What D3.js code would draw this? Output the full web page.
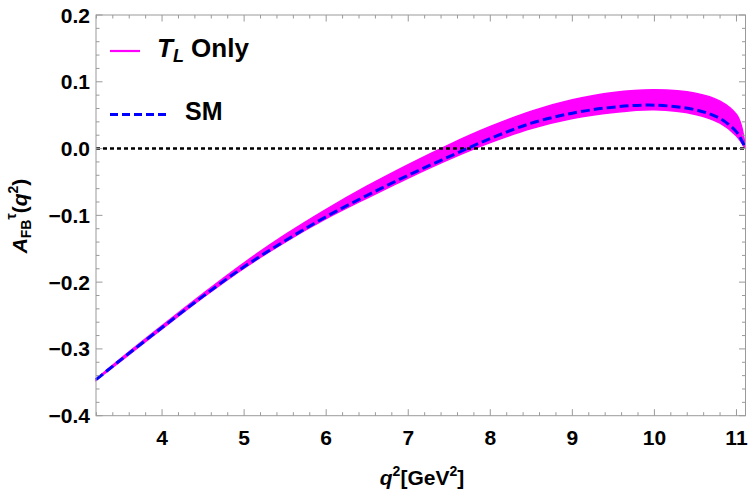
<!DOCTYPE html>
<html>
<head>
<meta charset="utf-8">
<script src="https://cdn.jsdelivr.net/npm/d3@7/dist/d3.min.js"></script>
<style>
  body { margin: 0; background: #fff; }
  svg text { font-family: "Liberation Sans", Arial, sans-serif; font-weight: bold; fill: #000; }
</style>
</head>
<body>
<svg id="chart" width="750" height="496"></svg>
<script>
// ---- data ----
const q2 = [3.195, 3.5, 4.0, 4.5, 5.0, 5.5, 6.0, 6.5, 7.0, 7.5, 8.0, 8.5, 9.0, 9.5, 10.0, 10.5, 10.8, 11.0, 11.06, 11.11];
const smValues = [-0.346, -0.316, -0.268, -0.221, -0.177, -0.138, -0.102, -0.070, -0.040, -0.012, 0.015, 0.038, 0.053, 0.062, 0.065, 0.058, 0.045, 0.025, 0.013, 0.0];
const tlUpper  = [-0.345, -0.314, -0.265, -0.217, -0.171, -0.129, -0.091, -0.056, -0.024, 0.006, 0.033, 0.056, 0.073, 0.084, 0.088, 0.083, 0.071, 0.051, 0.034, 0.0];
const tlLower  = [-0.347, -0.318, -0.270, -0.223, -0.179, -0.140, -0.105, -0.074, -0.044, -0.016, 0.009, 0.030, 0.045, 0.054, 0.058, 0.051, 0.038, 0.019, 0.009, 0.0];
const xTicks = [4, 5, 6, 7, 8, 9, 10, 11];
const yTicks = [-0.4, -0.3, -0.2, -0.1, 0.0, 0.1, 0.2];
const legendLabels = ["Only", "SM"];

// ---- layout ----
const svg = d3.select("#chart");
const L = 96, R = 745.5, T = 15, B = 415.7;
const x = d3.scaleLinear().domain([3.195, 11.11]).range([L, R]);
const y = d3.scaleLinear().domain([-0.4, 0.2]).range([B, T]);
const gray = "#9a9a9a";

// band
const band = q2.map((v, i) => ({ x: v, lo: tlLower[i], hi: tlUpper[i] }));
svg.append("path")
  .datum(band)
  .attr("fill", "#ff00ff")
  .attr("stroke", "#ff00ff")
  .attr("stroke-width", 1.5)
  .attr("d", d3.area().x(d => x(d.x)).y0(d => y(d.lo)).y1(d => y(d.hi)).curve(d3.curveCatmullRom));

// zero line
svg.append("line")
  .attr("x1", x(3.195)).attr("x2", x(11.11))
  .attr("y1", y(0)).attr("y2", y(0))
  .attr("stroke", "#000").attr("stroke-width", 2.6)
  .attr("stroke-dasharray", "4,3");

// SM line
svg.append("path")
  .datum(q2.map((v, i) => [v, smValues[i]]))
  .attr("fill", "none")
  .attr("stroke", "#0000ff")
  .attr("stroke-width", 3)
  .attr("stroke-dasharray", "9,4")
  .attr("d", d3.line().x(d => x(d[0])).y(d => y(d[1])).curve(d3.curveCatmullRom));

// frame
svg.append("rect")
  .attr("x", L).attr("y", T).attr("width", R - L).attr("height", B - T)
  .attr("fill", "none").attr("stroke", gray).attr("stroke-width", 1);

// ticks
const xMinor = d3.range(3.2, 11.101, 0.2).filter(v => Math.abs(v - Math.round(v)) > 1e-6);
const yMinor = d3.range(-0.4, 0.2001, 0.02).filter(v => Math.abs(v * 10 - Math.round(v * 10)) > 1e-6);
const tg = svg.append("g").attr("stroke", gray).attr("stroke-width", 1);
function xt(v, len) {
  tg.append("line").attr("x1", x(v)).attr("x2", x(v)).attr("y1", B).attr("y2", B - len);
  tg.append("line").attr("x1", x(v)).attr("x2", x(v)).attr("y1", T).attr("y2", T + len);
}
function yt(v, len) {
  tg.append("line").attr("y1", y(v)).attr("y2", y(v)).attr("x1", L).attr("x2", L + len);
  tg.append("line").attr("y1", y(v)).attr("y2", y(v)).attr("x1", R).attr("x2", R - len);
}
xTicks.forEach(v => xt(v, 6.5));
xMinor.forEach(v => xt(v, 3.5));
yTicks.forEach(v => yt(v, 6.5));
yMinor.forEach(v => yt(v, 3.5));

// tick labels
const fmt = d3.format(".1f");
svg.append("g").selectAll("text").data(xTicks).join("text")
  .attr("x", d => x(d)).attr("y", 445)
  .attr("text-anchor", "middle").attr("font-size", 21)
  .text(d => d);
svg.append("g").selectAll("text").data(yTicks).join("text")
  .attr("x", 90).attr("y", d => y(d) + 7.5)
  .attr("text-anchor", "end").attr("font-size", 21)
  .text(d => fmt(d));

// x label
const xl = svg.append("text").attr("x", 422).attr("y", 485).attr("text-anchor", "middle").attr("font-size", 21);
xl.append("tspan").attr("font-style", "italic").text("q");
xl.append("tspan").attr("font-size", 14).attr("dy", -9).text("2");
xl.append("tspan").attr("dy", 9).text("[GeV");
xl.append("tspan").attr("font-size", 14).attr("dy", -9).text("2");
xl.append("tspan").attr("dy", 9).text("]");

// y label
const yl = svg.append("text").attr("transform", "translate(27,216) rotate(-90)")
  .attr("text-anchor", "middle").attr("font-size", 21);
yl.append("tspan").attr("font-style", "italic").text("A");
yl.append("tspan").attr("font-size", 14).attr("dy", 4).text("FB");
yl.append("tspan").attr("font-size", 14).attr("dy", -15).text("τ");
yl.append("tspan").attr("dy", 11).text("(");
yl.append("tspan").attr("font-style", "italic").text("q");
yl.append("tspan").attr("font-size", 14).attr("dy", -9).text("2");
yl.append("tspan").attr("dy", 9).text(")");

// legend
svg.append("line").attr("x1", 110).attr("x2", 140).attr("y1", 51).attr("y2", 51)
  .attr("stroke", "#ff00ff").attr("stroke-width", 2.2);
const lt = svg.append("text").attr("x", 157).attr("y", 57).attr("font-size", 26);
lt.append("tspan").attr("font-style", "italic").text("T");
lt.append("tspan").attr("font-style", "italic").attr("font-size", 18).attr("dy", 5).text("L");
lt.append("tspan").attr("dy", -5).text(" " + legendLabels[0]);

svg.append("line").attr("x1", 110).attr("x2", 167).attr("y1", 114.5).attr("y2", 114.5)
  .attr("stroke", "#0000ff").attr("stroke-width", 3).attr("stroke-dasharray", "8,4");
svg.append("text").attr("x", 185).attr("y", 120).attr("font-size", 25).text(legendLabels[1]);
</script>
</body>
</html>
